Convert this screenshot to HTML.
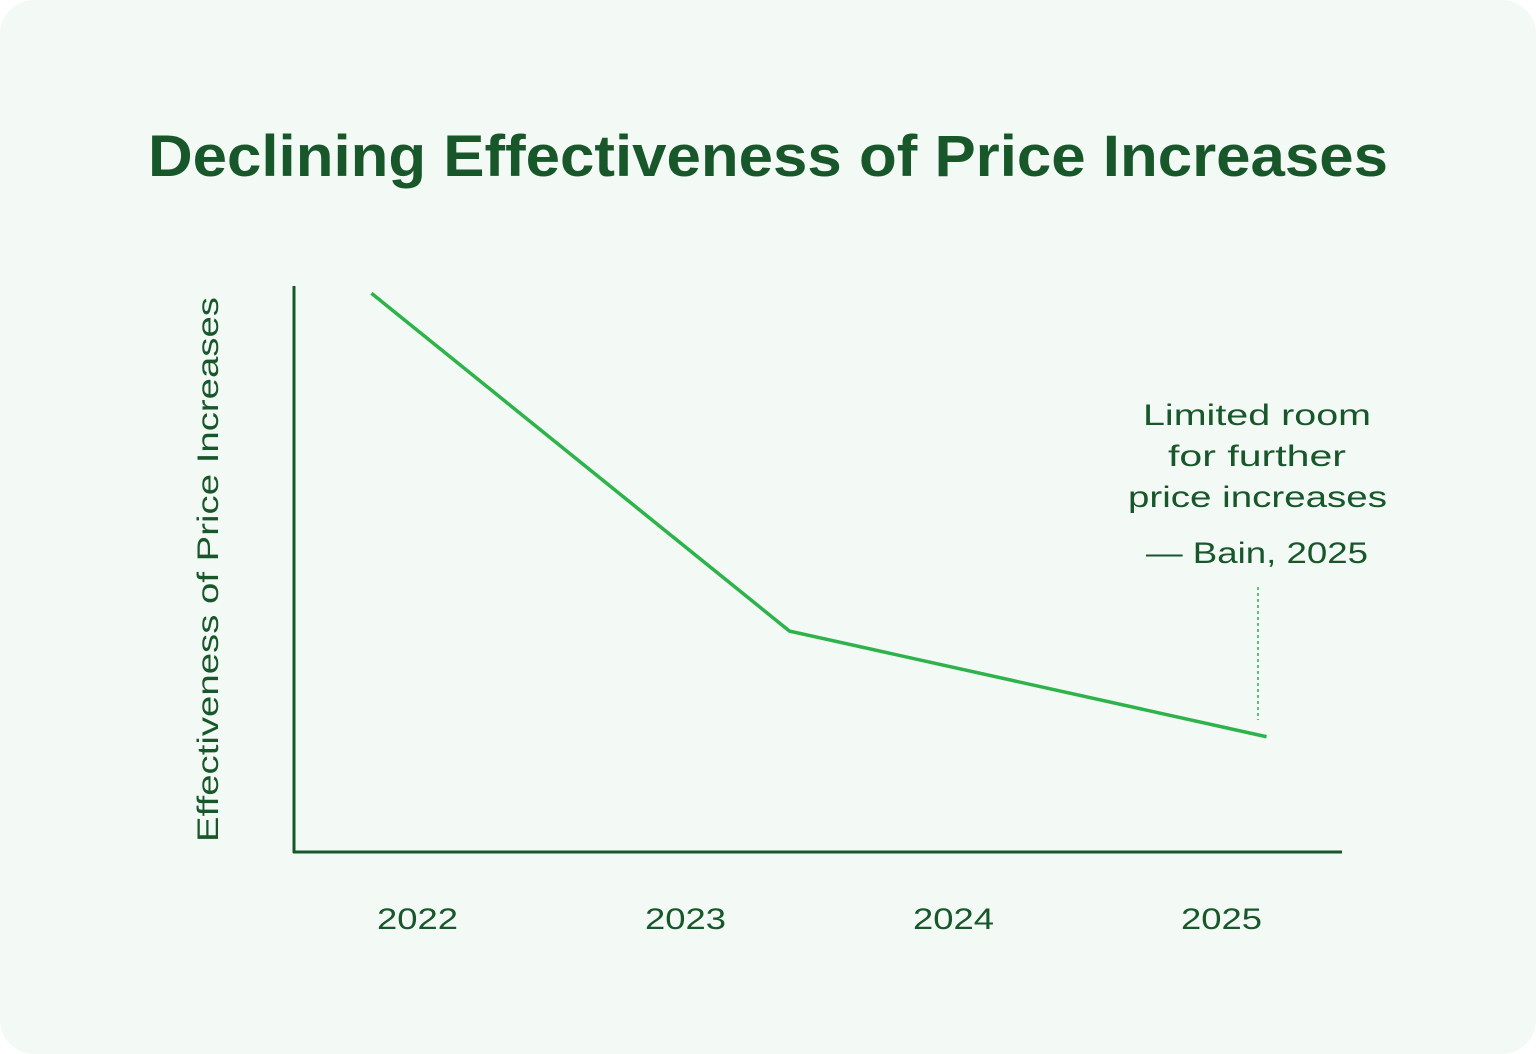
<!DOCTYPE html>
<html><head><meta charset="utf-8"><style>
body{margin:0;background:#fff;}
#card{position:absolute;left:0;top:0;width:1536px;height:1054px;background:#f3f9f5;border-radius:34px;}
svg{position:absolute;left:0;top:0;}
text{font-family:"Liberation Sans",sans-serif;fill:#17572a;}
</style></head><body>
<div id="card"></div>
<svg id="chart" width="1536" height="1054">
<text x="148" y="176" font-size="58" font-weight="bold" textLength="1240" lengthAdjust="spacingAndGlyphs">Declining Effectiveness of Price Increases</text>
<text transform="translate(218,842) rotate(-90)" font-size="30" textLength="545" lengthAdjust="spacingAndGlyphs">Effectiveness of Price Increases</text>
<line x1="294" y1="286" x2="294" y2="853" stroke="#17572a" stroke-width="3"/>
<line x1="293" y1="852" x2="1342" y2="852" stroke="#17572a" stroke-width="3"/>
<g id="ticks"></g>
<polyline id="series" fill="none" stroke="#2db34a" stroke-width="3.5"/>
<line x1="1258" y1="587" x2="1258" y2="720" stroke="#2db34a" stroke-width="1.5" stroke-dasharray="3,3"/>
<g font-size="30">
<text x="1143" y="425" textLength="228" lengthAdjust="spacingAndGlyphs">Limited room</text>
<text x="1168" y="466" textLength="178" lengthAdjust="spacingAndGlyphs">for further</text>
<text x="1128" y="507" textLength="259" lengthAdjust="spacingAndGlyphs">price increases</text>
<text x="1146" y="563" textLength="222" lengthAdjust="spacingAndGlyphs">— Bain, 2025</text>
</g>
</svg>
<script>
const categories=["2022","2023","2024","2025"];
const pointX=[2021.83,2023.39,2025.17];
const values=[98.9,39.1,20.4];
const xs=y=>417+(y-2022)*268;
const ys=v=>852-v*5.65;
const ns="http://www.w3.org/2000/svg";
const g=document.getElementById('ticks');
categories.forEach(c=>{
  const t=document.createElementNS(ns,'text');
  
  
  t.setAttribute('x',xs(+c)-40);t.setAttribute('y',929);
  t.setAttribute('font-size','30');
  t.setAttribute('textLength','81');t.setAttribute('lengthAdjust','spacingAndGlyphs');
  t.textContent=c;g.appendChild(t);
});
document.getElementById('series').setAttribute('points',values.map((v,i)=>xs(pointX[i])+','+ys(v)).join(' '));
</script>
</body></html>
